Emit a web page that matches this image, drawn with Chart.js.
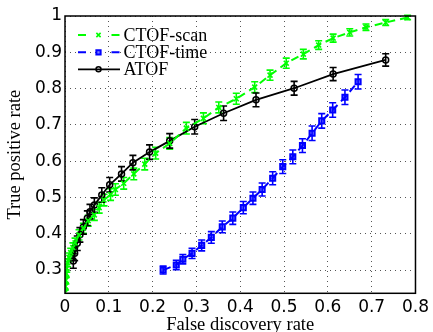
<!DOCTYPE html>
<html>
<head>
<meta charset="utf-8">
<script src="https://cdn.jsdelivr.net/npm/chart.js@4/dist/chart.umd.min.js"></script>
<style>
  html, body { margin: 0; padding: 0; background: #fff; }
  #wrap { width: 433px; height: 332px; }
</style>
</head>
<body>
<div id="wrap"><canvas id="rocChart" width="433" height="332"></canvas></div>
<script>
// valeurs
var scanX = [0.000, 0.001, 0.002, 0.003, 0.004, 0.006, 0.009, 0.013, 0.018, 0.023, 0.032, 0.042, 0.053, 0.067, 0.078, 0.089, 0.104, 0.115, 0.134, 0.157, 0.182, 0.207, 0.239, 0.277, 0.316, 0.351, 0.391, 0.433, 0.468, 0.505, 0.544, 0.579, 0.612, 0.650, 0.687, 0.732, 0.782];
var scanY = [0.238, 0.255, 0.272, 0.290, 0.305, 0.320, 0.335, 0.348, 0.362, 0.375, 0.397, 0.415, 0.436, 0.452, 0.472, 0.493, 0.508, 0.522, 0.539, 0.565, 0.592, 0.622, 0.649, 0.691, 0.718, 0.748, 0.772, 0.804, 0.837, 0.870, 0.895, 0.920, 0.939, 0.955, 0.969, 0.982, 0.996];
var scanErr = [0.010, 0.010, 0.010, 0.010, 0.011, 0.011, 0.012, 0.012, 0.013, 0.013, 0.014, 0.014, 0.015, 0.015, 0.015, 0.016, 0.016, 0.016, 0.016, 0.016, 0.016, 0.016, 0.016, 0.016, 0.015, 0.015, 0.015, 0.015, 0.014, 0.014, 0.013, 0.012, 0.011, 0.010, 0.009, 0.008, 0.006];

var timeX = [0.224, 0.254, 0.269, 0.290, 0.312, 0.334, 0.359, 0.383, 0.407, 0.429, 0.450, 0.474, 0.497, 0.520, 0.542, 0.564, 0.586, 0.611, 0.639, 0.669];
var timeY = [0.300, 0.314, 0.330, 0.346, 0.368, 0.390, 0.419, 0.443, 0.472, 0.498, 0.522, 0.553, 0.585, 0.612, 0.643, 0.677, 0.711, 0.741, 0.776, 0.819];
var timeErr = [0.011, 0.013, 0.013, 0.014, 0.015, 0.016, 0.016, 0.017, 0.017, 0.017, 0.018, 0.018, 0.019, 0.019, 0.019, 0.020, 0.020, 0.020, 0.020, 0.020];

var atofX = [0.019, 0.022, 0.028, 0.034, 0.042, 0.051, 0.057, 0.067, 0.084, 0.102, 0.129, 0.155, 0.193, 0.239, 0.296, 0.362, 0.436, 0.523, 0.612, 0.732];
var atofY = [0.325, 0.346, 0.374, 0.397, 0.419, 0.443, 0.461, 0.479, 0.507, 0.535, 0.565, 0.596, 0.625, 0.656, 0.695, 0.732, 0.769, 0.801, 0.840, 0.879];
var atofErr = [0.020, 0.020, 0.020, 0.020, 0.020, 0.020, 0.020, 0.020, 0.020, 0.020, 0.020, 0.020, 0.020, 0.020, 0.020, 0.020, 0.019, 0.019, 0.018, 0.017];

var seriesLabels = ['CTOF-scan', 'CTOF-time', 'ATOF'];
var xTitle = 'False discovery rate';
var yTitle = 'True positive rate';

function toPoints(xs, ys) {
    var pts = [];
    for (var i = 0; i < xs.length; i++) pts.push({x: xs[i], y: ys[i]});
    return pts;
}

// "1" et "0" sans decimale, comme matlab
function tickText(v) {
    return String(Math.round(v * 10) / 10);
}

var sansFont = 'DejaVu Sans';
var serifFont = 'Liberation Serif';

// barres d'erreur, cadre et legende facon matlab
var matlabPlugin = {
    id: 'matlabLook',
    beforeDatasetsDraw: function (chart) {
        var ctx = chart.ctx;
        var xs = chart.scales.x, ys = chart.scales.y;
        var area = chart.chartArea;
        ctx.save();
        ctx.beginPath();
        ctx.rect(area.left, area.top - 2, area.right - area.left, area.bottom - area.top + 2);
        ctx.clip();
        chart.data.datasets.forEach(function (ds) {
            ctx.strokeStyle = ds.borderColor;
            ctx.lineWidth = 1.6;
            ctx.setLineDash([]);
            ds.data.forEach(function (p, i) {
                var e = ds.errors[i];
                var px = xs.getPixelForValue(p.x);
                var y1 = ys.getPixelForValue(p.y - e);
                var y2 = ys.getPixelForValue(p.y + e);
                ctx.beginPath();
                ctx.moveTo(px, y1); ctx.lineTo(px, y2);
                ctx.moveTo(px - 3.5, y1); ctx.lineTo(px + 3.5, y1);
                ctx.moveTo(px - 3.5, y2); ctx.lineTo(px + 3.5, y2);
                ctx.stroke();
            });
        });
        ctx.restore();
    },
    afterDraw: function (chart) {
        var ctx = chart.ctx;
        var area = chart.chartArea;
        ctx.save();
        ctx.strokeStyle = '#000';
        ctx.lineWidth = 1.5;
        ctx.setLineDash([]);
        ctx.strokeRect(area.left, area.top, area.right - area.left, area.bottom - area.top);

        // legende
        var rowY = [35, 52.3, 69.3];
        ctx.font = '18px "' + serifFont + '"';
        ctx.textBaseline = 'middle';
        ctx.textAlign = 'left';
        chart.data.datasets.forEach(function (ds, i) {
            var y = rowY[i];
            ctx.strokeStyle = ds.borderColor;
            ctx.lineWidth = ds.borderWidth;
            ctx.setLineDash(ds.borderDash && ds.borderDash.length ? [8, 25.5] : []);
            ctx.beginPath();
            ctx.moveTo(78, y); ctx.lineTo(120, y);
            ctx.stroke();
            ctx.setLineDash([]);
            ctx.lineWidth = ds.pointBorderWidth;
            ctx.fillStyle = ds.backgroundColor;
            Chart.helpers.drawPoint(ctx, {
                pointStyle: ds.pointStyle,
                radius: ds.pointStyle === 'circle' ? 2.5 : 3,
                rotation: 0,
                borderWidth: ds.pointBorderWidth
            }, 98.5, y);
            ctx.fillStyle = '#000';
            ctx.fillText(ds.label, 123.5, y + 1);
        });
        ctx.restore();
    }
};

var ctxRoc = document.getElementById('rocChart').getContext('2d');
var rocChart = new Chart(ctxRoc, {
    type: 'line',
    data: {
        datasets: [{
            label: seriesLabels[0],
            data: toPoints(scanX, scanY),
            errors: scanErr,
            borderColor: '#00ff00',
            backgroundColor: '#00ff00',
            borderWidth: 2,
            borderDash: [8, 5],
            pointStyle: 'crossRot',
            pointRadius: 3.5,
            pointBorderWidth: 1.6,
            pointBorderColor: '#00ff00'
        }, {
            label: seriesLabels[1],
            data: toPoints(timeX, timeY),
            errors: timeErr,
            borderColor: '#0000ff',
            backgroundColor: 'rgba(0, 0, 255, 0.5)',
            borderWidth: 2,
            borderDash: [8, 5],
            pointStyle: 'rect',
            pointRadius: 3.6,
            pointBorderWidth: 2,
            pointBorderColor: '#0000ff'
        }, {
            label: seriesLabels[2],
            data: toPoints(atofX, atofY),
            errors: atofErr,
            borderColor: '#000000',
            backgroundColor: 'rgba(0, 0, 0, 0)',
            borderWidth: 1.8,
            pointStyle: 'circle',
            pointRadius: 3,
            pointBorderWidth: 1.5,
            pointBorderColor: '#000000'
        }]
    },
    options: {
        responsive: false,
        animation: false,
        devicePixelRatio: 1,
        layout: { padding: { top: 16, right: 16.5, left: 0, bottom: 0 } },
        plugins: {
            legend: { display: false },
            tooltip: { enabled: false }
        },
        scales: {
            x: {
                type: 'linear',
                min: 0,
                max: 0.8,
                afterFit: function (scale) { scale.height = 38.7; },
                ticks: {
                    stepSize: 0.1,
                    color: '#000',
                    padding: 4,
                    maxRotation: 0,
                    callback: tickText,
                    font: { family: sansFont, size: 17 }
                },
                grid: {
                    color: '#555',
                    lineWidth: 1,
                    drawTicks: false
                },
                border: { display: false, dash: [1, 4] },
                title: {
                    display: true,
                    text: xTitle,
                    color: '#000',
                    font: { family: serifFont, size: 18.5, lineHeight: 1 },
                    padding: { top: 0, bottom: -2 }
                }
            },
            y: {
                type: 'linear',
                min: 0.236,
                max: 1,
                afterFit: function (scale) { scale.width = 65; },
                ticks: {
                    stepSize: 0.1,
                    includeBounds: false,
                    color: '#000',
                    padding: 3,
                    callback: tickText,
                    font: { family: sansFont, size: 17 }
                },
                grid: {
                    color: '#555',
                    lineWidth: 1,
                    drawTicks: false
                },
                border: { display: false, dash: [1, 4] },
                title: {
                    display: true,
                    text: yTitle,
                    color: '#000',
                    font: { family: serifFont, size: 18.5, lineHeight: 1.2 },
                    padding: { top: 4, bottom: 4 }
                }
            }
        }
    },
    plugins: [matlabPlugin]
});
</script>
</body>
</html>
